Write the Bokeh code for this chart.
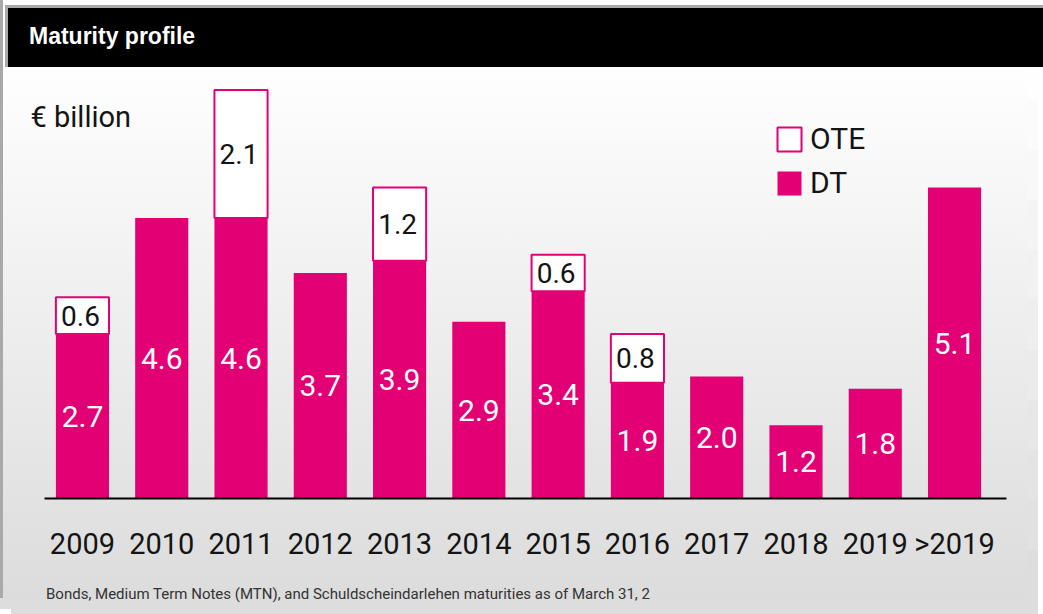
from bokeh.plotting import figure
from bokeh.models import FactorRange, Range1d, Label, Legend, LegendItem, ColumnDataSource, Div
from bokeh.layouts import column
from bokeh.core.properties import value
from bokeh.embed import file_html
from bokeh.resources import INLINE

# ---- data (EUR billion) ----
years = ["2009", "2010", "2011", "2012", "2013", "2014", "2015", "2016", "2017", "2018", "2019", ">2019"]
dt = [2.7, 4.6, 4.6, 3.7, 3.9, 2.9, 3.4, 1.9, 2.0, 1.2, 1.8, 5.1]
ote = [0.6, 0.0, 2.1, 0.0, 1.2, 0.0, 0.6, 0.8, 0.0, 0.0, 0.0, 0.0]

title_text = "Maturity profile"
unit_text = "€ billion"
footnote = "Bonds, Medium Term Notes (MTN), and Schuldscheindarlehen maturities as of March 31, 2"

MAGENTA = "#E20074"
FONT = "Roboto"
INK = "#141414"

dt_src = ColumnDataSource(dict(
    year=years, top=dt, mid=[v / 2 for v in dt], lab=[f"{v:.1f}" for v in dt]))
oy = [(y, d, o) for y, d, o in zip(years, dt, ote) if o > 0]
ote_src = ColumnDataSource(dict(
    year=[t[0] for t in oy],
    bottom=[t[1] for t in oy],
    top=[t[1] + t[2] for t in oy],
    mid=[t[1] + t[2] / 2 for t in oy],
    lab=[f"{t[2]:.1f}" for t in oy]))

W = 1027
H = 598
p = figure(x_range=FactorRange(*years, range_padding=0.0343),
           y_range=Range1d(0, 6.84),
           width=W, height=507, output_backend="svg", toolbar_location=None,
           min_border_left=26, min_border_right=17, min_border_top=9, min_border_bottom=81,
           background_fill_color=None, border_fill_color=None, outline_line_color=None,
           y_axis_location=None)

dt_r = p.vbar(x="year", top="top", bottom=0, width=0.67, source=dt_src,
              fill_color=MAGENTA, line_color=None)
ote_r = p.vbar(x="year", top="top", bottom="bottom", width=0.67, source=ote_src,
               fill_color="#ffffff", line_color=MAGENTA, line_width=2)

p.text(x="year", y="mid", text="lab", source=dt_src, text_color="#ffffff",
       text_font=value(FONT), text_font_size="30px", text_align="center",
       text_baseline="middle")
p.text(x="year", y="mid", text="lab", source=ote_src, text_color=INK,
       text_font=value(FONT), text_font_size="28px", text_align="center",
       text_baseline="middle", x_offset=-2)

p.xgrid.grid_line_color = None
p.ygrid.grid_line_color = None
ax = p.xaxis[0]
ax.bounds = (0.02, 12.15)
ax.axis_line_color = "#000000"
ax.axis_line_width = 2
ax.major_tick_line_color = None
ax.minor_tick_line_color = None
ax.major_label_text_font = FONT
ax.major_label_text_font_size = "29px"
ax.major_label_text_color = INK
ax.major_label_standoff = 22

legend = Legend(items=[LegendItem(label="OTE", renderers=[ote_r]),
                       LegendItem(label="DT", renderers=[dt_r])],
                location=(748, 298), orientation="vertical", padding=0, margin=0,
                spacing=9, border_line_color=None, background_fill_alpha=0,
                glyph_width=30, glyph_height=30, label_standoff=6,
                label_text_font=FONT, label_text_font_size="30px",
                label_text_color=INK, label_height=30)
p.add_layout(legend)

p.add_layout(Label(x=4, y=382, x_units="screen", y_units="screen", text=unit_text,
                   text_font=FONT, text_font_size="29px", text_color=INK,
                   text_baseline="middle"))

head = Div(text=('<div style="padding:15px 0 0 24px;font-family:\'Liberation Sans\';'
                 'font-weight:bold;font-size:23px;color:#ffffff;white-space:nowrap">'
                 + title_text + '</div>'),
           width=W, height=62,
           styles={"background-color": "#000000",
                   "box-shadow": ("inset 3px 3px 0 0 #a9a9a9, "
                                  "13px 1.5px 0 -1.5px #000000, "
                                  "13px 0 0 0 #a9a9a9")})

foot = Div(text=('<div style="padding:0 0 0 41px;font-family:Roboto;'
                 'font-size:15px;color:#333333;white-space:nowrap">'
                 + footnote + '</div>'),
           width=W, height=29)


# decorative continuation of the background gradient past the right/bottom edge
def _grey(dy):
    t = (dy + 25) / H
    g = 255 if t < 0.1 else round(255 - 35 * (t - 0.1) / 0.9)
    return f"#{g:02x}{g:02x}{g:02x}"


shadows = ["inset 3px 0 0 0 #a9a9a9", "0 11px 0 0 #dddddd"]
shadows += [f"11px {dy}px 0 0 {_grey(dy)}" for dy in range(550, -1, -50)]

page = column(head, p, foot, width=W, height=H, spacing=0,
              styles={"background": "linear-gradient(180deg, #ffffff 10%, #dcdcdc 100%)",
                      "box-shadow": ", ".join(shadows)})

open("out.html", "w").write(file_html(page, INLINE))
